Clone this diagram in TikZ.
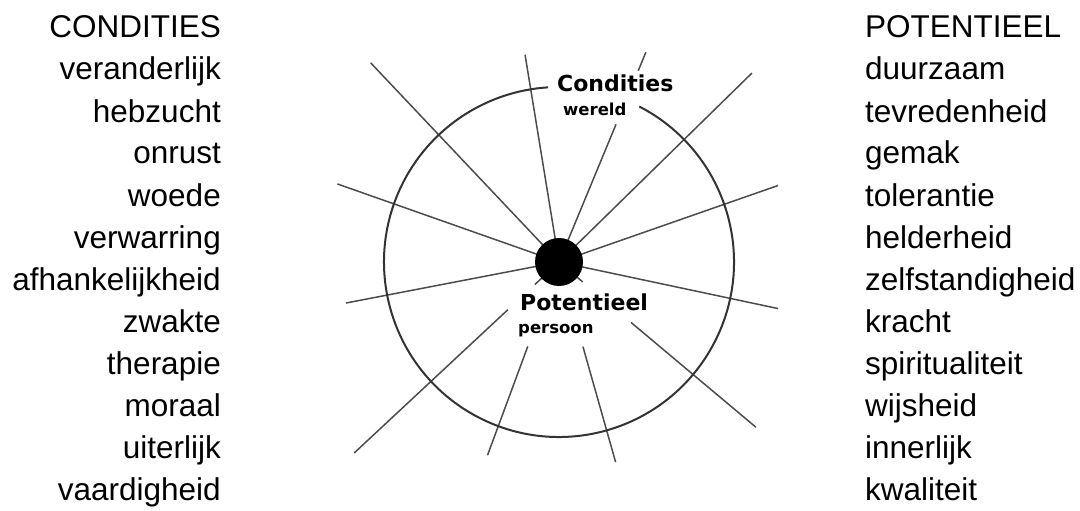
\documentclass[tikz,border=0pt]{standalone}
\usepackage{fontspec}
\setmainfont{Liberation Sans}
\newfontfamily\kopfont{DejaVu Sans}
\usepackage{xcolor}
\usepackage{tikz}
\usetikzlibrary{positioning}

\definecolor{straalgrijs}{gray}{0.3}
\definecolor{randgrijs}{gray}{0.2}

\begin{document}
\begin{tikzpicture}[
    x=1pt, y=-1pt,
    woord/.style={
        inner sep=0pt,
        font=\fontsize{31.5}{38}\selectfont
    },
    links/.style={woord, anchor=base east},
    rechts/.style={woord, anchor=base west},
    kop/.style={inner sep=0pt, anchor=base west,
        font=\kopfont\bfseries\fontsize{22}{26}\selectfont},
    onder/.style={inner sep=0pt, anchor=base west,
        font=\kopfont\bfseries\fontsize{16.5}{20}\selectfont},
    straal/.style={straalgrijs, line width=1.5pt},
    rand/.style={randgrijs, line width=2pt},
    stip/.style={circle, fill=black, inner sep=0pt, minimum size=48pt}
]
\useasboundingbox (0,0) rectangle (1080,511);

% linker kolom
\node[links] (condities) at (221,38) {CONDITIES};
\node[links] (veranderlijk) at (221,80) {veranderlijk};
\node[links] (hebzucht) at (221,122) {hebzucht};
\node[links] (onrust) at (221,164) {onrust};
\node[links] (woede) at (221,206) {woede};
\node[links] (verwarring) at (221,248) {verwarring};
\node[links] (afhankelijkheid) at (221,290) {afhankelijkheid};
\node[links] (zwakte) at (221,332) {zwakte};
\node[links] (therapie) at (221,374) {therapie};
\node[links] (moraal) at (221,416) {moraal};
\node[links] (uiterlijk) at (221,458) {uiterlijk};
\node[links] (vaardigheid) at (221,500) {vaardigheid};

% rechter kolom
\node[rechts] (potentieel) at (865,38) {POTENTIEEL};
\node[rechts] (duurzaam) at (865,80) {duurzaam};
\node[rechts] (tevredenheid) at (865,122) {tevredenheid};
\node[rechts] (gemak) at (865,164) {gemak};
\node[rechts] (tolerantie) at (865,206) {tolerantie};
\node[rechts] (helderheid) at (865,248) {helderheid};
\node[rechts] (zelfstandigheid) at (865,290) {zelfstandigheid};
\node[rechts] (kracht) at (865,332) {kracht};
\node[rechts] (spiritualiteit) at (865,374) {spiritualiteit};
\node[rechts] (wijsheid) at (865,416) {wijsheid};
\node[rechts] (innerlijk) at (865,458) {innerlijk};
\node[rechts] (kwaliteit) at (865,500) {kwaliteit};

% stralen vanuit het midden
\coordinate (midden) at (559,262);
\begin{scope}[shift={(midden)}]
\draw[straal] (0,0) -- (-133.4:274);
\draw[straal] (0,0) -- (-99.3:210);
\draw[straal] (0,0) -- (-67.5:149);
\draw[straal] (-67.5:207) -- (-67.5:227);
\draw[straal] (0,0) -- (-44.4:270);
\draw[straal] (0,0) -- (-19.25:232);
\draw[straal] (0,0) -- (12:224);
\draw[straal] (0,0) -- (-160.6:235);
\draw[straal] (0,0) -- (169.1:217);
\draw[straal] (0,0) -- (137:33);
\draw[straal] (137:70) -- (137:280);
\draw[straal] (110.3:90) -- (110.3:206);
\draw[straal] (74.2:88) -- (74.2:208);
\draw[straal] (0,0) -- (40:31);
\draw[straal] (40:94) -- (40:257);

% cirkel, open onder de kop
\draw[rand] (-62.7:175) arc[start angle=-62.7, end angle=266.4, radius=175];
\end{scope}

\node[stip] (kern) at (midden) {};

\node[kop] (wereldkop) at (557,92) {Condities};
\node[onder] (wereld) at (563,115) {wereld};
\node[kop] (persoonkop) at (520,310) {Potentieel};
\node[onder] (persoon) at (518,333) {persoon};

\end{tikzpicture}
\end{document}
